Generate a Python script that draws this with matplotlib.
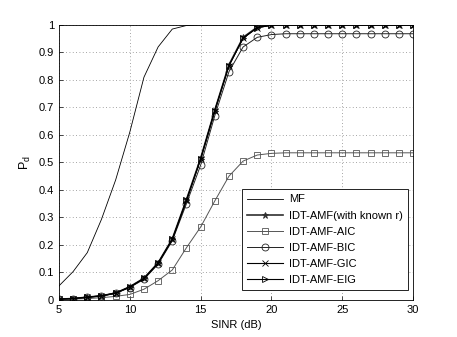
import matplotlib.pyplot as plt
import numpy as np

plt.rcParams['font.family'] = ['Liberation Sans', 'DejaVu Sans']
plt.rcParams['font.size'] = 8

# data
sinr = np.arange(5, 31)
mf = [0.051, 0.103, 0.172, 0.293, 0.436, 0.61, 0.81, 0.92, 0.985, 0.998, 1.0,
      1, 1, 1, 1, 1, 1, 1, 1, 1, 1, 1, 1, 1, 1, 1]
known_r = [0.003, 0.005, 0.01, 0.015, 0.025, 0.048, 0.079, 0.135, 0.222, 0.365,
           0.515, 0.69, 0.855, 0.955, 0.992, 1.0, 1, 1, 1, 1, 1, 1, 1, 1, 1, 1]
aic = [0.002, 0.003, 0.005, 0.008, 0.013, 0.02, 0.039, 0.07, 0.109, 0.19,
       0.265, 0.36, 0.45, 0.505, 0.527, 0.533, 0.535, 0.535, 0.535, 0.535,
       0.535, 0.535, 0.535, 0.535, 0.535, 0.535]
bic = [0.003, 0.005, 0.009, 0.014, 0.024, 0.045, 0.075, 0.13, 0.215, 0.35,
       0.49, 0.67, 0.83, 0.92, 0.955, 0.965, 0.968, 0.968, 0.968, 0.968,
       0.968, 0.968, 0.968, 0.968, 0.968, 0.968]
gic = [0.003, 0.005, 0.01, 0.015, 0.025, 0.047, 0.078, 0.134, 0.22, 0.362,
       0.512, 0.688, 0.852, 0.952, 0.99, 0.999, 1, 1, 1, 1, 1, 1, 1, 1, 1, 1]
eig = [0.003, 0.005, 0.01, 0.015, 0.025, 0.047, 0.078, 0.134, 0.22, 0.362,
       0.512, 0.688, 0.852, 0.952, 0.99, 0.999, 1, 1, 1, 1, 1, 1, 1, 1, 1, 1]

fig = plt.figure(figsize=(4.57, 3.37), dpi=100)
ax = fig.add_axes([0.129, 0.110, 0.775, 0.816])

mew = 0.6
ax.plot(sinr, mf, color='black', linewidth=0.6, label='MF')
ax.plot(sinr, known_r, color='#303030', linewidth=1.2, marker='*', markersize=5,
        markeredgewidth=mew, label='IDT-AMF(with known r)')
ax.plot(sinr, aic, color='#555555', linewidth=0.7, marker='s', markersize=4.5,
        markeredgewidth=mew, markerfacecolor='none', label='IDT-AMF-AIC')
ax.plot(sinr, bic, color='#222222', linewidth=0.7, marker='o', markersize=5,
        markeredgewidth=mew, markerfacecolor='none', label='IDT-AMF-BIC')
ax.plot(sinr, gic, color='black', linewidth=0.8, marker='x', markersize=4,
        markeredgewidth=mew, label='IDT-AMF-GIC')
ax.plot(sinr, eig, color='black', linewidth=0.8, marker='>', markersize=5,
        markeredgewidth=mew, markerfacecolor='none', label='IDT-AMF-EIG')

ax.set_xlim(5, 30)
ax.set_ylim(0, 1)
ax.set_xticks(np.arange(5, 31, 5))
ax.set_yticks(np.arange(0, 1.01, 0.1))
ax.set_yticklabels(['0', '0.1', '0.2', '0.3', '0.4', '0.5', '0.6', '0.7', '0.8', '0.9', '1'])
ax.tick_params(direction='in', length=3, width=0.5)
ax.grid(True, linestyle=(0, (1, 3)), linewidth=0.6, color='#888888')
for s in ax.spines.values():
    s.set_linewidth(0.6)

ax.set_xlabel('SINR (dB)')
ax.set_ylabel('P$_{\\mathregular{d}}$', fontsize=9)

leg = ax.legend(loc='lower right', fancybox=False, edgecolor='black',
                framealpha=1, handlelength=3.2, handletextpad=0.6,
                borderpad=0.45, labelspacing=0.55, borderaxespad=0,
                bbox_to_anchor=(0.986, 0.036))
leg.get_frame().set_linewidth(0.6)

plt.savefig('out.png', dpi=100)
